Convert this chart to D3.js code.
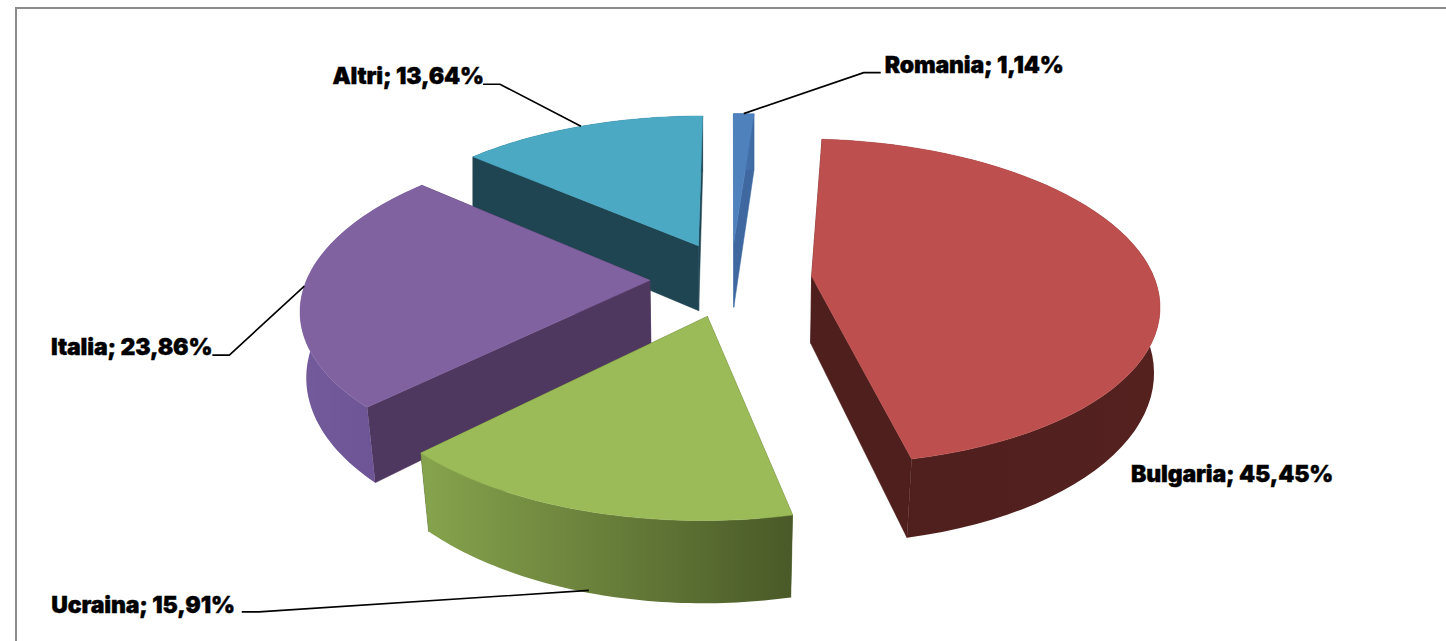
<!DOCTYPE html>
<html><head><meta charset="utf-8">
<style>html,body{margin:0;padding:0;background:#fff;overflow:hidden}svg{display:block}</style>
<script src="https://cdn.jsdelivr.net/npm/d3@7"></script></head>
<body><svg id="c" width="1446" height="641"></svg>
<script>
const categories=["Romania","Bulgaria","Ucraina","Italia","Altri"];
const values=[1.14,45.45,15.91,23.86,13.64];
const valueLabels=["1,14%","45,45%","15,91%","23,86%","13,64%"];
const topColors=["#4F81BD","#BD504E","#9BBB59","#8062A0","#4BA9C4"];
const wallColors=["#3F68A0","#4F1F1D","#4F6128","#4F3860","#1F4552"];
const rimFrom=["#4F81BD","#4E1F1D","#85A24C","#735A9B","#1F4552"];
const rimTo=["#3F68A0","#54211F","#4A5A28","#6A5192","#1F4552"];
const paintOrder=[4,0,3,1,2];

const cx=731,cy=279,R=343,explode=81,tilt=0.465,depth=67,persp=0.155,converge=0.0116,convergeY=1.27;
const svg=d3.select("#c");
const defs=svg.append("defs");
svg.append("rect").attr("x",16).attr("y",8).attr("width",1500).attr("height",700)
  .attr("fill","#fff").attr("stroke","#8c8c8c").attr("stroke-width",2);

const arcs=d3.pie().sort(null).value(d=>d).startAngle(0).endAngle(2*Math.PI)(values);
const line=d3.line().curve(d3.curveLinear);
function project(x,y,z){
  const s=1/(1-persp*y/R);
  const c=converge*Math.max(0,1+convergeY*y/R);
  return [cx+x*s*(1-c*z), cy+(tilt*y+depth*z)*s];
}
function offset(a){const m=(a.startAngle+a.endAngle)/2;return [explode*Math.sin(m),-explode*Math.cos(m)];}
function rimPt(a,t,z){const o=offset(a);return project(o[0]+R*Math.sin(t),o[1]-R*Math.cos(t),z);}
function apex(a,z){const o=offset(a);return project(o[0],o[1],z);}
function rimAngles(a){return d3.range(0,61).map(i=>a.startAngle+(a.endAngle-a.startAngle)*i/60);}

paintOrder.forEach(i=>{
  const a=arcs[i],ts=rimAngles(a),g=svg.append("g").attr("class","slice");
  const gid="rim"+i;
  const lo=ts.map(t=>rimPt(a,t,1)[0]);
  const gr=defs.append("linearGradient").attr("id",gid).attr("gradientUnits","userSpaceOnUse")
    .attr("x1",d3.min(lo)).attr("x2",d3.max(lo)).attr("y1",0).attr("y2",0);
  gr.append("stop").attr("offset",0).attr("stop-color",rimFrom[i]);
  gr.append("stop").attr("offset",1).attr("stop-color",rimTo[i]);
  [a.startAngle,a.endAngle].forEach(t=>{
    g.append("path").attr("d",line([apex(a,0),rimPt(a,t,0),rimPt(a,t,1),apex(a,1)])+"Z")
     .attr("fill",wallColors[i]).attr("stroke",wallColors[i]).attr("stroke-width",.5);
  });
  g.append("path").attr("d",line(ts.map(t=>rimPt(a,t,0)).concat(ts.slice().reverse().map(t=>rimPt(a,t,1))))+"Z")
   .attr("fill","url(#"+gid+")");
  g.append("path").attr("d",line([apex(a,0)].concat(ts.map(t=>rimPt(a,t,0))))+"Z")
   .attr("fill",topColors[i]).attr("stroke",topColors[i]).attr("stroke-width",.5);
});

// label placement: elbow and text anchor, relative to the slice's rim midpoint
const leaderDepth=[0,0,0.97,0,0];
const elbow=[[120,-41],null,[-330,21.5],[-75,69],[-81,-42]];
const textDx=[141,null,-354,-92,-97];
const textBaseDy=[-41,null,23,69,-42];
const bulgariaLabel=[1131,482];
arcs.forEach((a,i)=>{
  const m=(a.startAngle+a.endAngle)/2,p=rimPt(a,m,leaderDepth[i]);
  const lab=categories[i]+"; "+valueLabels[i];
  let tx,ty,anchor="start";
  if(elbow[i]){
    const e=[p[0]+elbow[i][0],p[1]+elbow[i][1]];
    const dir=elbow[i][0]>0?1:-1;
    svg.append("path").attr("fill","none").attr("stroke","#000").attr("stroke-width",1.6)
      .attr("d",line([p,e,[e[0]+dir*17,e[1]]]));
    tx=p[0]+textDx[i];ty=p[1]+textBaseDy[i];
    anchor=dir>0?"start":"end";
  } else {[tx,ty]=bulgariaLabel;}
  svg.append("text").attr("x",tx).attr("y",ty).attr("text-anchor",anchor)
    .attr("font-family","Inter").attr("font-weight",900).attr("font-size",23)
    .attr("letter-spacing",-0.15)
    .attr("fill","#000").attr("stroke","#000").attr("stroke-width",.4).text(lab);
});
</script></body></html>
